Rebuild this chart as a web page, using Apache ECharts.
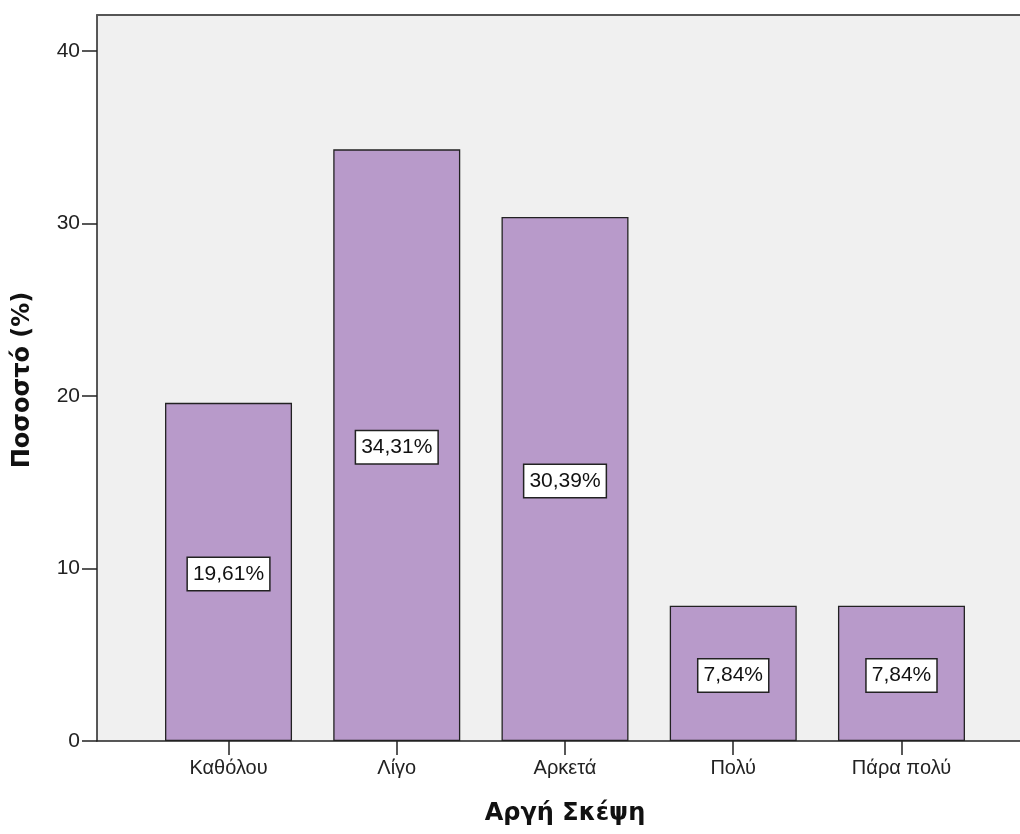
<!DOCTYPE html>
<html>
<head>
<meta charset="utf-8">
<style>
  html, body { margin: 0; padding: 0; background: #ffffff; }
  #chart { width: 1020px; height: 834px; }
</style>
<script src="https://cdn.jsdelivr.net/npm/echarts@6/dist/echarts.min.js"></script>
</head>
<body>
<div id="chart"></div>
<script>
// Response categories and their shares (%)
const categories = ['Καθόλου', 'Λίγο', 'Αρκετά', 'Πολύ', 'Πάρα πολύ'];
const percentages = [19.61, 34.31, 30.39, 7.84, 7.84];
const yTicks = [0, 10, 20, 30, 40];
const xTitle = 'Αργή Σκέψη';
const yTitle = 'Ποσοστό (%)';

const yMax = 42.1;
const labelFont = 'Liberation Sans';
const titleFont = 'DejaVu Sans';

const chart = echarts.init(document.getElementById('chart'), null, { renderer: 'canvas' });

chart.setOption({
  animation: false,
  backgroundColor: '#ffffff',
  grid: [
    // frame: background, y axis, baseline and top edge
    { left: 97, right: 0, top: 15, bottom: 93, show: true, backgroundColor: '#F0F0F0',
      borderWidth: 0, outerBoundsMode: 'none', containLabel: false },
    // bar band area
    { left: 144.4, width: 841.2, top: 15, bottom: 93, outerBoundsMode: 'none', containLabel: false }
  ],
  xAxis: [
    {
      gridIndex: 0, type: 'value', min: 0, max: 1, position: 'bottom',
      axisLine: { show: true, lineStyle: { color: '#222', width: 1.5 } },
      axisTick: { show: false }, axisLabel: { show: false }, splitLine: { show: false }
    },
    {
      gridIndex: 0, type: 'value', min: 0, max: 1, position: 'top',
      axisLine: { show: true, lineStyle: { color: '#555', width: 2 } },
      axisTick: { show: false }, axisLabel: { show: false }, splitLine: { show: false }
    },
    {
      gridIndex: 1, type: 'category', data: categories, position: 'bottom',
      axisLine: { show: false },
      axisTick: { show: true, alignWithLabel: true, length: 14, lineStyle: { color: '#222', width: 1.5 } },
      axisLabel: { fontFamily: labelFont, fontSize: 20, color: '#222', margin: 17 },
      splitLine: { show: false }
    }
  ],
  yAxis: [
    {
      gridIndex: 0, type: 'value', min: 0, max: yMax,
      axisLine: { show: true, lineStyle: { color: '#222', width: 1.5 } },
      axisTick: { show: true, length: 15, customValues: yTicks, lineStyle: { color: '#222', width: 1.5 } },
      axisLabel: { customValues: yTicks, fontFamily: labelFont, fontSize: 21, color: '#222', margin: 17 },
      splitLine: { show: false }
    },
    {
      gridIndex: 1, type: 'value', min: 0, max: yMax, show: false
    }
  ],
  graphic: [
    {
      type: 'text', x: 565, y: 814,
      style: { text: xTitle, font: 'bold 24px "' + titleFont + '"', fill: '#111',
               align: 'center', verticalAlign: 'middle' }
    },
    {
      type: 'text', x: 23, y: 380, rotation: Math.PI / 2,
      style: { text: yTitle, font: 'bold 24px "' + titleFont + '"', fill: '#111',
               align: 'center', verticalAlign: 'middle' }
    }
  ],
  series: [
    {
      type: 'bar',
      xAxisIndex: 2, yAxisIndex: 1,
      data: percentages,
      barWidth: 127,
      itemStyle: { color: '#B89ACA', borderColor: '#222', borderWidth: 1.3 },
      label: {
        show: true, position: 'inside', offset: [0, 2],
        formatter: p => p.value.toFixed(2).replace('.', ',') + '%',
        fontFamily: labelFont, fontSize: 21, color: '#111',
        backgroundColor: '#ffffff', borderColor: '#222', borderWidth: 1.5,
        padding: [6, 5, 5, 5]
      }
    }
  ]
});
</script>
</body>
</html>
